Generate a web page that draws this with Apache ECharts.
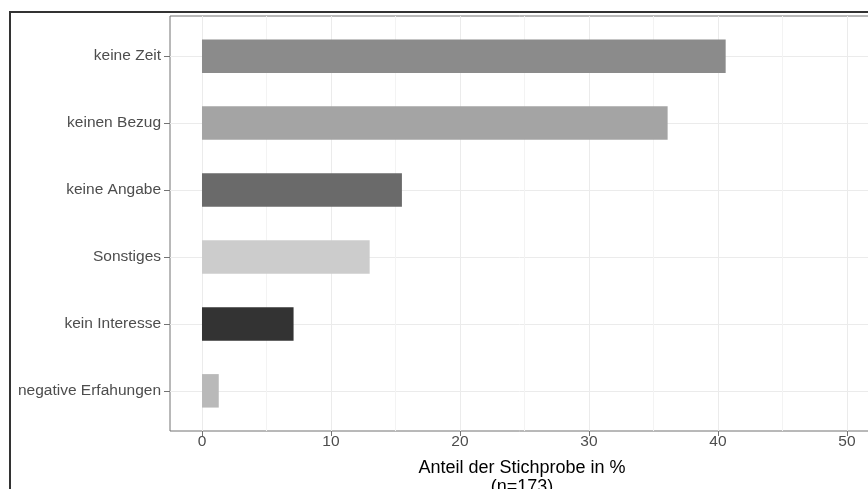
<!DOCTYPE html>
<html>
<head>
<meta charset="utf-8">
<script src="https://cdn.jsdelivr.net/npm/echarts@6/dist/echarts.min.js"></script>
<style>
html,body{margin:0;padding:0;background:#fff;}
#c{width:868px;height:489px;}
</style>
</head>
<body>
<div id="c"></div>
<script>
const CATEGORIES = ['keine Zeit', 'keinen Bezug', 'keine Angabe', 'Sonstiges', 'kein Interesse', 'negative Erfahungen'];
const VALUES = [40.6, 36.1, 15.5, 13.0, 7.1, 1.3];
const BAR_COLORS = ['#8B8B8B', '#A4A4A4', '#6A6A6A', '#CCCCCC', '#333333', '#B9B9B9'];
const MAJOR_TICKS = [0, 10, 20, 30, 40, 50];
const MINOR_TICKS = [5, 15, 25, 35, 45];
const X_TITLE = 'Anteil der Stichprobe in %\n(n=173)';

const XMIN = -2.48, XMAX = 52.1;
const CAT_IDX = CATEGORIES.map((c, i) => i);
const FONT = '"Liberation Sans", Arial, Helvetica, sans-serif';

const PANEL = {left: 170, right: -6, top: 16, bottom: 58};
const band = (489 - PANEL.top - PANEL.bottom) / (CATEGORIES.length + 0.2);

const chart = echarts.init(document.getElementById('c'), null, {renderer: 'canvas'});
chart.setOption({
  backgroundColor: '#ffffff',
  animation: false,
  textStyle: {fontFamily: FONT},
  graphic: [{
    type: 'rect', silent: true, z: 100,
    shape: {x: 10, y: 12, width: 900, height: 500},
    style: {fill: null, stroke: '#333333', lineWidth: 2}
  }],
  grid: [
    {left: PANEL.left, right: PANEL.right, top: PANEL.top, bottom: PANEL.bottom,
     outerBoundsMode: 'none', containLabel: false,
     show: true, borderColor: '#737373', borderWidth: 1, backgroundColor: '#ffffff'},
    {left: PANEL.left, right: PANEL.right, top: PANEL.top + 0.1 * band, bottom: PANEL.bottom + 0.1 * band,
     outerBoundsMode: 'none', containLabel: false}
  ],
  xAxis: [
    {type: 'value', gridIndex: 0, min: XMIN, max: XMAX, position: 'bottom',
     axisLine: {show: false, onZero: false},
     axisTick: {show: true, customValues: MAJOR_TICKS, length: 5, lineStyle: {color: '#737373'}},
     axisLabel: {show: true, customValues: MAJOR_TICKS, color: '#4d4d4d', fontSize: 15.5, margin: 3, fontFamily: FONT},
     splitLine: {show: true, lineStyle: {color: '#ebebeb', width: 1}},
     name: X_TITLE, nameLocation: 'middle', nameGap: 28,
     nameTextStyle: {color: '#000', fontSize: 18, lineHeight: 19, fontFamily: FONT}},
    {type: 'value', gridIndex: 0, min: XMIN, max: XMAX, position: 'bottom',
     axisLine: {show: false, onZero: false},
     axisTick: {show: false, customValues: MINOR_TICKS},
     axisLabel: {show: false, customValues: MINOR_TICKS},
     splitLine: {show: true, lineStyle: {color: '#f3f3f3', width: 1}}},
    {type: 'value', gridIndex: 1, min: XMIN, max: XMAX, show: false,
     axisLine: {onZero: false}}
  ],
  yAxis: [
    {type: 'value', gridIndex: 0, min: -0.6, max: CATEGORIES.length - 0.4, inverse: true, position: 'left',
     axisLine: {show: false, onZero: false},
     axisTick: {show: false, customValues: CAT_IDX},
     axisLabel: {show: false, customValues: CAT_IDX},
     splitLine: {show: true, lineStyle: {color: '#ebebeb', width: 1}}},
    {type: 'category', gridIndex: 1, data: CATEGORIES, inverse: true, position: 'left',
     axisLine: {show: false, onZero: false},
     axisTick: {show: true, alignWithLabel: true, length: 6, lineStyle: {color: '#737373'}},
     axisLabel: {color: '#4d4d4d', fontSize: 15.5, margin: 9, fontFamily: FONT},
     splitLine: {show: false}}
  ],
  series: [{
    type: 'bar', xAxisIndex: 2, yAxisIndex: 1, barWidth: '50%', z: 3,
    data: VALUES.map((v, i) => ({value: v, itemStyle: {color: BAR_COLORS[i]}}))
  }]
});
</script>
</body>
</html>
